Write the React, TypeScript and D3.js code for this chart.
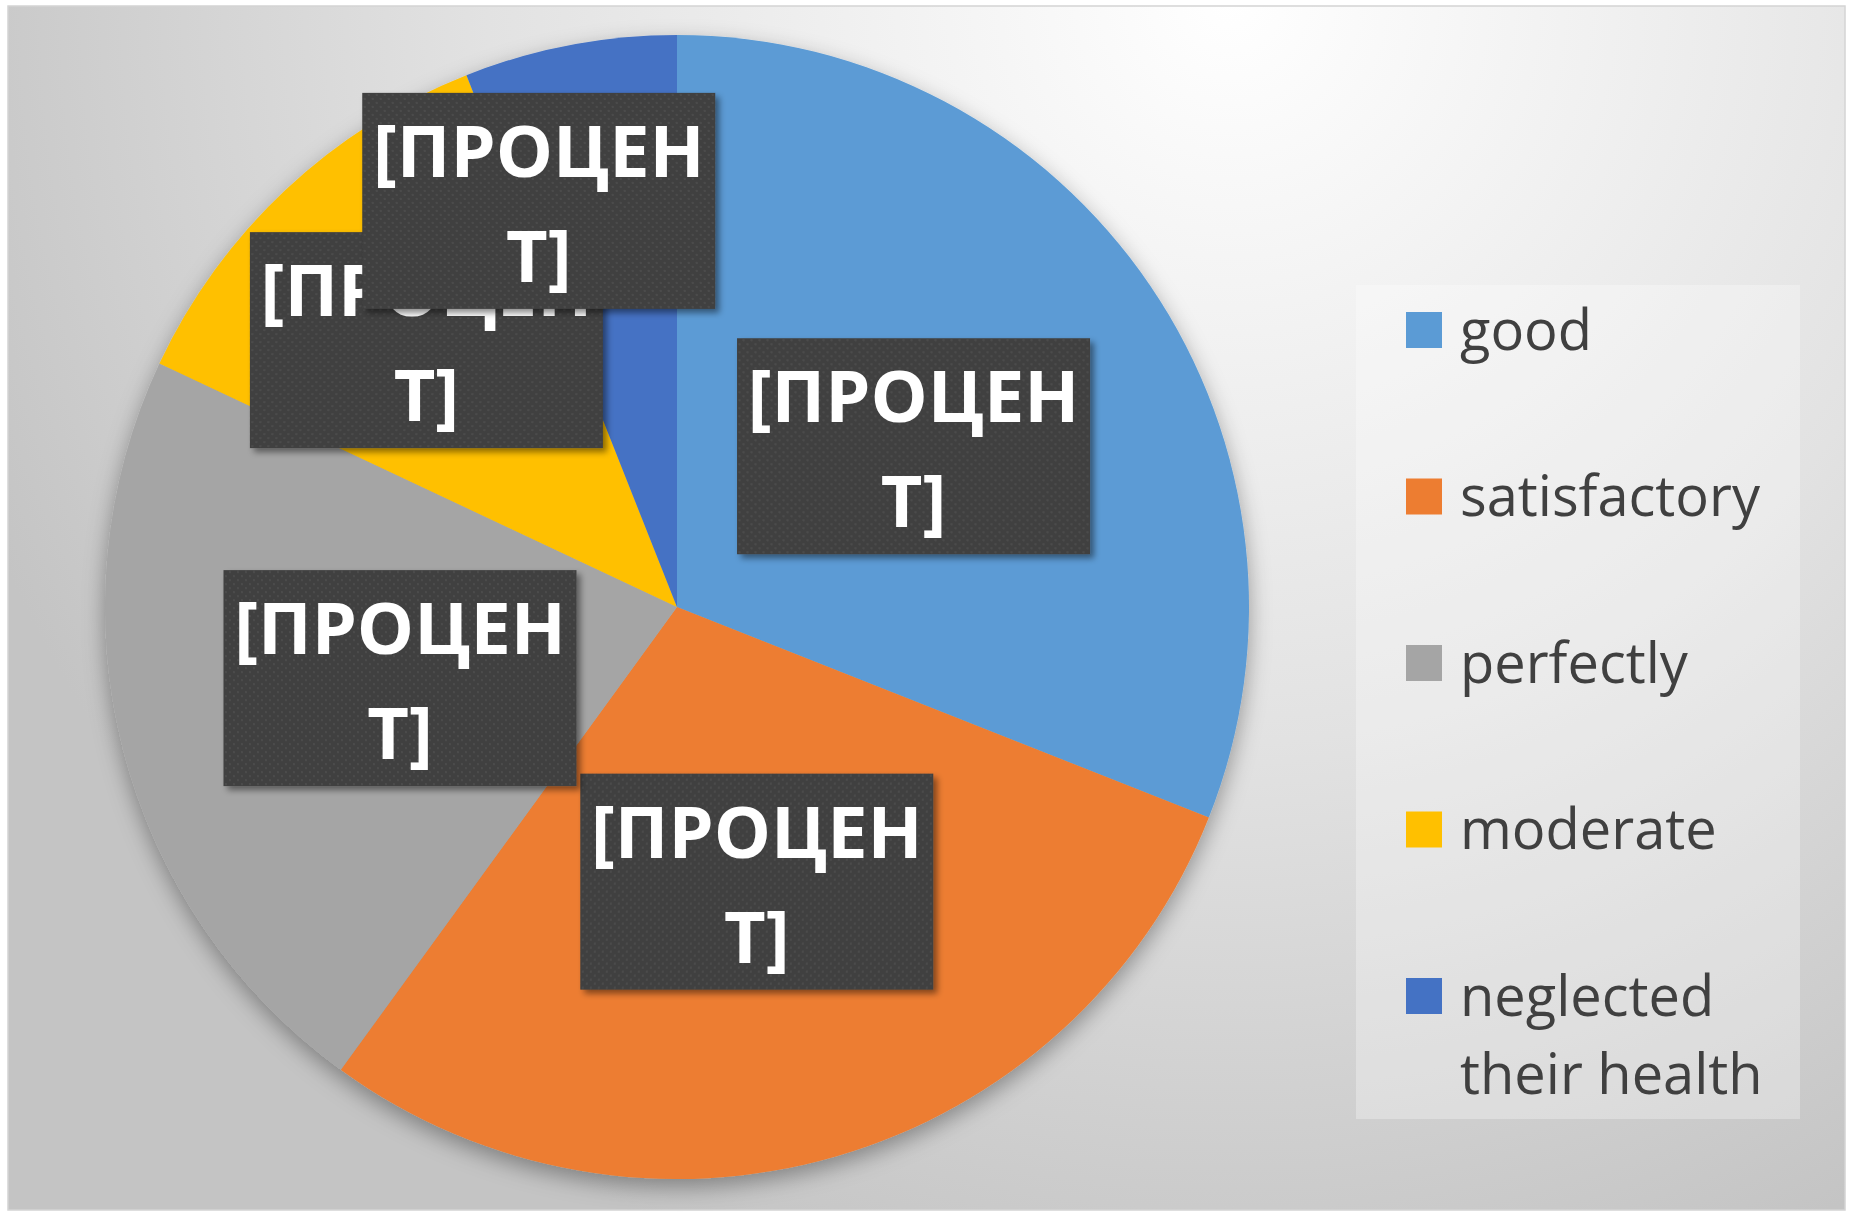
import React from 'react'
import * as d3 from 'd3'

// chart data
const categories = ['good', 'satisfactory', 'perfectly', 'moderate', 'neglected their health']
const shares = [31, 29, 22, 12, 6]
const sliceColors = ['#5B9BD5', '#ED7D31', '#A5A5A5', '#FFC000', '#4472C4']
const labelLines = ['[ПРОЦЕН', 'Т]']

// layout
const W = 1853
const H = 1228
const frame = { x: 8, y: 6, w: 1837, h: 1204 }
const cx = 677
const cy = 607
const radius = 572
// excel pushes the small-slice labels outwards (radius factor, angle shift in degrees)
const labelRadius = [0.5, 0.5, 0.5, 0.64, 0.75]
const labelShift = [0, 0, 0, 0, -8]
const box = { w: 353, h: 216 }
const legendBox = { x: 1356, y: 285, w: 444, h: 834 }

const wrap = (s: string, max: number) => {
  const out: string[] = []
  s.split(' ').forEach((w) => {
    const last = out[out.length - 1]
    if (last && (last + ' ' + w).length <= max) out[out.length - 1] = last + ' ' + w
    else out.push(w)
  })
  return out
}

const App = () => {
  const pie = d3.pie<number>().sort(null).value((d) => d)
  const arcs = pie(shares)
  const arcGen = d3.arc<d3.PieArcDatum<number>>().innerRadius(0).outerRadius(radius)

  const labelPos = arcs.map((a, i) => {
    const mid = (a.startAngle + a.endAngle) / 2 + (labelShift[i] * Math.PI) / 180
    const r = radius * labelRadius[i]
    return [Math.sin(mid) * r, -Math.cos(mid) * r]
  })

  const rowY = d3.scaleLinear().domain([0, 4]).range([330, 996])

  return (
    <svg
      width={W}
      height={H}
      style={{ position: 'absolute', left: 0, top: 0, fontFamily: 'Open Sans' }}
    >
      <defs>
        <radialGradient id='bg' gradientUnits='userSpaceOnUse' cx={1230} cy={0} r={1350}>
          <stop offset='0' stopColor='#ffffff' />
          <stop offset='0.55' stopColor='#e2e2e2' />
          <stop offset='1' stopColor='#c4c4c4' />
        </radialGradient>
        <filter id='pieShadow' x='-20%' y='-20%' width='140%' height='140%'>
          <feDropShadow dx='0' dy='8' stdDeviation='11' floodColor='#000' floodOpacity='0.35' />
        </filter>
        <filter id='boxShadow' x='-10%' y='-10%' width='125%' height='125%'>
          <feDropShadow dx='4' dy='4' stdDeviation='3' floodColor='#000' floodOpacity='0.45' />
        </filter>
        <pattern id='dots' width='8' height='8' patternUnits='userSpaceOnUse'>
          <rect width='8' height='8' fill='#3f3f3f' />
          <circle cx='2' cy='2' r='1.3' fill='#4c4c4c' />
          <circle cx='6' cy='6' r='1.3' fill='#4c4c4c' />
        </pattern>
      </defs>

      <rect x={frame.x} y={frame.y} width={frame.w} height={frame.h} fill='url(#bg)' stroke='#d4d4d4' strokeWidth={1.5} />

      <g transform={`translate(${cx},${cy})`}>
        <g filter='url(#pieShadow)'>
          {arcs.map((a, i) => (
            <path key={categories[i]} d={arcGen(a) || ''} fill={sliceColors[i]} />
          ))}
        </g>
        {labelPos.map(([x, y], i) => (
          <g key={'lbl' + i} transform={`translate(${x},${y})`}>
            <rect
              x={-box.w / 2}
              y={-box.h / 2}
              width={box.w}
              height={box.h}
              fill='url(#dots)'
              filter='url(#boxShadow)'
            />
            {labelLines.map((t, j) => (
              <text
                key={j}
                x={0}
                y={j === 0 ? -24 : 81}
                textAnchor='middle'
                fill='#ffffff'
                fontWeight='bold'
                fontSize={72}
              >
                {t}
              </text>
            ))}
          </g>
        ))}
      </g>

      <rect x={legendBox.x} y={legendBox.y} width={legendBox.w} height={legendBox.h} fill='#ffffff' opacity={0.3} />
      {categories.map((c, i) => (
        <g key={c}>
          <rect x={1406} y={rowY(i) - 18} width={36} height={36} fill={sliceColors[i]} />
          {wrap(c, 12).map((line, j) => (
            <text key={j} x={1460} y={rowY(i) + j * 78} dy='0.35em' fontSize={56} fill='#404040'>
              {line}
            </text>
          ))}
        </g>
      ))}
    </svg>
  )
}

export default App
